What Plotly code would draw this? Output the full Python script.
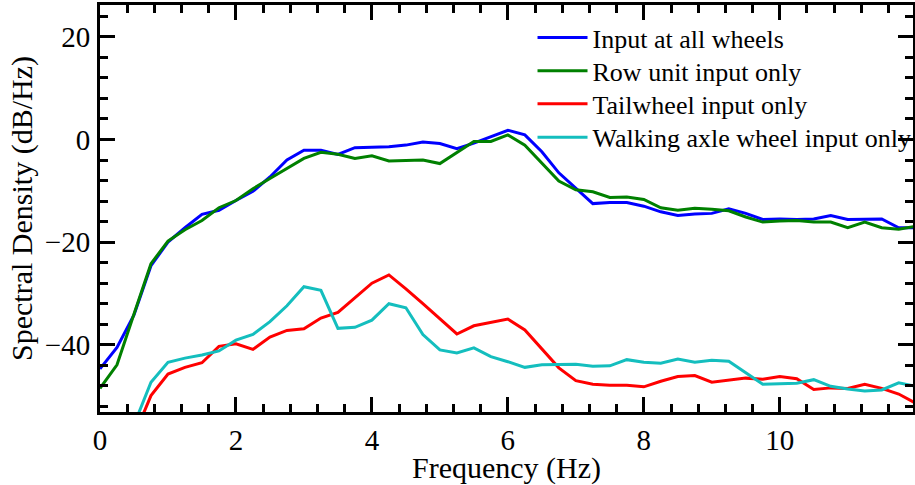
import plotly.graph_objects as go

freq = [0.0, 0.25, 0.5, 0.75, 1.0, 1.25, 1.5, 1.75, 2.0, 2.25, 2.5, 2.75, 3.0, 3.25, 3.5, 3.75,
        4.0, 4.25, 4.5, 4.75, 5.0, 5.25, 5.5, 5.75, 6.0, 6.25, 6.5, 6.75, 7.0, 7.25, 7.5, 7.75,
        8.0, 8.25, 8.5, 8.75, 9.0, 9.25, 9.5, 9.75, 10.0, 10.25, 10.5, 10.75, 11.0, 11.25, 11.5, 11.75, 12.0]

all_wheels = [-44.7, -40.5, -34.2, -24.6, -20.0, -17.2, -14.6, -13.8, -11.9, -10.1, -7.3, -4.0, -2.1, -2.1, -2.9, -1.6,
              -1.5, -1.4, -1.1, -0.5, -0.8, -1.8, -0.7, 0.5, 1.8, 0.9, -2.4, -6.5, -9.6, -12.5, -12.3, -12.3,
              -13.0, -14.1, -14.8, -14.5, -14.4, -13.5, -14.4, -15.6, -15.5, -15.6, -15.5, -14.8, -15.6, -15.6, -15.5, -17.2, -17.2]

row_unit = [-48.5, -43.9, -34.0, -24.2, -19.8, -17.6, -15.8, -13.3, -11.9, -9.6, -7.6, -5.7, -3.7, -2.5, -2.9, -3.7,
            -3.2, -4.2, -4.1, -4.0, -4.7, -2.5, -0.4, -0.4, 0.9, -1.1, -4.7, -8.1, -9.8, -10.2, -11.3, -11.2,
            -11.7, -13.3, -13.8, -13.4, -13.6, -13.9, -15.1, -16.1, -15.9, -15.8, -16.1, -16.1, -17.2, -16.1, -17.2, -17.5, -16.9]

freq_low = freq[2:]

tailwheel = [-57.8, -49.9, -45.7, -44.4, -43.5, -40.3, -39.8, -40.9, -38.5, -37.2, -36.9, -34.8, -33.7, -30.9,
             -28.0, -26.4, -29.1, -32.0, -35.0, -37.9, -36.3, -35.7, -35.0, -37.1, -40.8, -44.5, -47.0, -47.7, -47.9, -47.9,
             -48.2, -47.1, -46.2, -46.0, -47.3, -46.9, -46.5, -46.7, -46.2, -46.6, -48.7, -48.4, -48.5, -47.7, -48.5, -49.6, -51.4]

walking_axle = [-55.6, -47.3, -43.4, -42.6, -42.0, -41.2, -39.1, -38.0, -35.5, -32.4, -28.7, -29.4, -36.8, -36.6,
                -35.2, -32.0, -32.8, -38.0, -41.0, -41.6, -40.6, -42.3, -43.3, -44.4, -43.9, -43.9, -43.8, -44.2, -44.1, -42.9,
                -43.4, -43.6, -42.8, -43.4, -43.0, -43.2, -45.5, -47.7, -47.6, -47.5, -46.8, -48.1, -48.6, -49.0, -48.8, -47.4, -48.1]

series = [
    ("Input at all wheels", freq, all_wheels, "#0000FF"),
    ("Row unit input only", freq, row_unit, "#008000"),
    ("Tailwheel input only", freq_low, tailwheel, "#FF0000"),
    ("Walking axle wheel input only", freq_low, walking_axle, "#14BEBE"),
]

FONT = "Liberation Serif"
legend_ids = ["legend", "legend2", "legend3", "legend4"]
legend_y = [0.920, 0.838, 0.757, 0.675]

fig = go.Figure()
for (name, xs, ys, col), lid in zip(series, legend_ids):
    fig.add_trace(go.Scatter(x=xs, y=ys, mode="lines", name=name, legend=lid,
                             line=dict(color=col, width=3)))

axis_common = dict(
    showgrid=False, zeroline=False, showline=True, linecolor="black", linewidth=3,
    mirror="allticks", ticks="inside", tickwidth=3, ticklen=15, tickcolor="black",
    tickfont=dict(family=FONT, size=29, color="black"),
    title_font=dict(family=FONT, size=30, color="black"),
)

fig.update_xaxes(range=[0, 11.96], tick0=0, dtick=2,
                 minor=dict(ticks="inside", dtick=0.4, tick0=0, ticklen=8, tickwidth=3, tickcolor="black"),
                 title_text="Frequency (Hz)", title_standoff=20, ticklabelstandoff=0, **axis_common)
fig.update_yaxes(range=[-53.1, 26.2], tick0=0, dtick=20,
                 minor=dict(ticks="inside", dtick=4, tick0=0, ticklen=8, tickwidth=3, tickcolor="black"),
                 title_text="Spectral Density (dB/Hz)", title_standoff=4, ticklabelstandoff=1, **axis_common)

legend_style = dict(x=0.532, xanchor="left", yanchor="middle", bgcolor="rgba(0,0,0,0)",
                    font=dict(family=FONT, size=26, color="black"), itemwidth=50)

fig.update_layout(
    width=915, height=485,
    margin=dict(l=100, r=2, t=5, b=73, autoexpand=False),
    plot_bgcolor="white", paper_bgcolor="white",
    font=dict(family=FONT, color="black"),
    showlegend=True,
    **{lid: dict(y=ly, **legend_style) for lid, ly in zip(legend_ids, legend_y)},
)

fig.write_html("out.html")
